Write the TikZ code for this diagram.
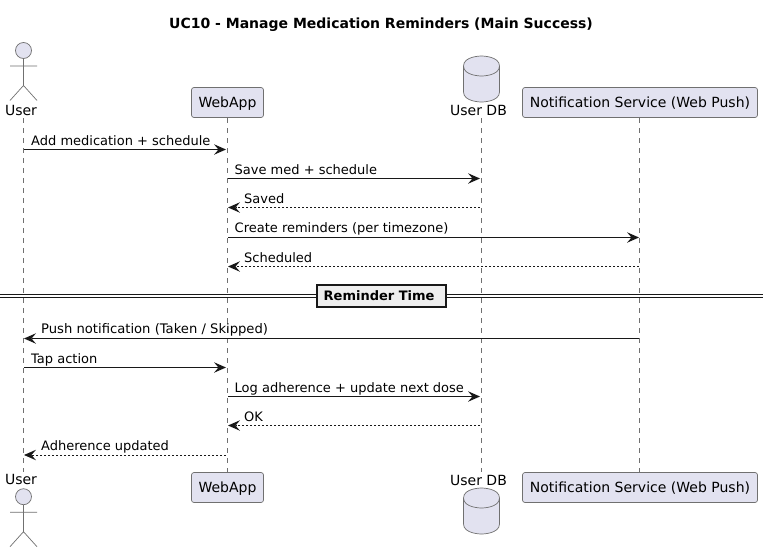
\documentclass[tikz,border=0pt]{standalone}
\usepackage{fontspec}
\setmainfont{DejaVu Sans}
\usetikzlibrary{arrows.meta}
\definecolor{partfill}{HTML}{E2E2F0}
\definecolor{ink}{HTML}{181818}
\definecolor{thinink}{HTML}{707070}
\definecolor{divfill}{HTML}{EEEEEE}
\tikzset{
  partbox/.style={draw=thinink,line width=0.7pt,fill=partfill,rounded corners=2.5pt,inner sep=0pt,minimum height=30pt,text height=13pt,text depth=3.4pt,font=\fontsize{14}{16}\selectfont,text=black,anchor=center},
  partlabel/.style={inner sep=0pt,anchor=base,font=\fontsize{14}{16}\selectfont,text=black},
  lifeline/.style={draw=thinink,line width=0.7pt,dash pattern=on 5pt off 5pt},
  msg/.style={draw=ink,line width=1pt,-{Stealth[length=12pt,width=10.5pt,inset=4.5pt,line width=0pt,fill=ink]}},
  retmsg/.style={msg,dash pattern=on 2pt off 2pt},
  msglabel/.style={inner sep=0pt,anchor=base west,font=\fontsize{13}{15}\selectfont,text=black},
  actorshape/.style={draw=thinink,line width=0.7pt,fill=partfill},
  actorlimb/.style={draw=thinink,line width=0.7pt},
  dbshape/.style={draw=thinink,line width=0.7pt,fill=partfill},
  pics/actor/.style={code={
    \draw[actorshape] (0,0) circle (8pt);
    \draw[actorlimb] (0,8)--(0,35) (-13.5,15.5)--(13.5,15.5) (-13.5,50)--(0,35)--(13.5,50);
  }},
  pics/database/.style={code={
    \draw[dbshape] (-18,10) .. controls (-18,0) and (0,0) .. (0,0) .. controls (0,0) and (18,0) .. (18,10) -- (18,36) .. controls (18,46) and (0,46) .. (0,46) .. controls (0,46) and (-18,46) .. (-18,36) -- cycle;
    \draw[dbshape,fill=none] (-18,10) .. controls (-18,20) and (0,20) .. (0,20) .. controls (0,20) and (18,20) .. (18,10);
  }}
}
\begin{document}
\begin{tikzpicture}[x=1pt,y=-1pt]
\useasboundingbox (0,0) rectangle (768,552);
\fill[white] (0,0) rectangle (768,552);
% title
\node[inner sep=0pt,anchor=base,font=\fontsize{14}{16}\selectfont\bfseries] (title) at (381,28.3) {UC10 - Manage Medication Reminders (Main Success)};
% lifeline end points
\coordinate (utop) at (23.5,118);
\coordinate (ubot) at (23.5,472);
\coordinate (dtop) at (481.5,118);
\coordinate (dbot) at (481.5,472);
\coordinate (wtop) at (227.5,118);
\coordinate (wbot) at (227.5,472);
\coordinate (ntop) at (639.5,118);
\coordinate (nbot) at (639.5,472);
\draw[lifeline] (utop) -- (ubot);
\draw[lifeline] (wtop) -- (wbot);
\draw[lifeline] (dtop) -- (dbot);
\draw[lifeline] (ntop) -- (nbot);
% participants
\pic at (23.5,50.5) {actor};
\node[partlabel] (userT) at (21,115) {User};
\node[partlabel] (userB) at (21,484.5) {User};
\pic at (23.5,496.7) {actor};
\node[partbox,minimum width=72pt] (webT) at (227.5,102.5) {WebApp};
\node[partbox,minimum width=72pt] (webB) at (227.5,487.5) {WebApp};
\pic at (481.5,56) {database};
\node[partlabel] (dbT) at (478.5,115.3) {User DB};
\node[partlabel] (dbB) at (478.5,485) {User DB};
\pic at (481.5,488) {database};
\node[partbox,minimum width=235pt] (notT) at (640,102.5) {Notification Service (Web Push)};
\node[partbox,minimum width=235pt] (notB) at (640,487.5) {Notification Service (Web Push)};
% messages
\foreach \n/\y in {1/149.5,2/178.5,3/207.5,4/237.5,5/266.5,6/338.5,7/367.5,8/396.5,9/425.5,10/455}{
  \coordinate (u\n) at (24,\y);
  \coordinate (w\n) at (226,\y);
  \coordinate (wr\n) at (228,\y);
  \coordinate (d\n) at (480,\y);
  \coordinate (n\n) at (639,\y);
}
\draw[msg] (u1) -- (w1);
\node[msglabel] (m1) at (31,145) {Add medication + schedule};
\draw[msg] (wr2) -- (d2);
\node[msglabel] (m2) at (234.5,174) {Save med + schedule};
\draw[retmsg] (d3) -- (wr3);
\node[msglabel] (m3) at (244,203.5) {Saved};
\draw[msg] (wr4) -- (n4);
\node[msglabel] (m4) at (234.5,232.5) {Create reminders (per timezone)};
\draw[retmsg] (n5) -- (wr5);
\node[msglabel] (m5) at (244,262) {Scheduled};
\draw[msg] (n6) -- (u6);
\node[msglabel,font=\fontsize{13.15}{15}\selectfont] (m6) at (41,333.5) {Push notification (Taken / Skipped)};
\draw[msg] (u7) -- (w7);
\node[msglabel] (m7) at (31,363) {Tap action};
\draw[msg] (wr8) -- (d8);
\node[msglabel] (m8) at (234.5,392) {Log adherence + update next dose};
\draw[retmsg] (d9) -- (wr9);
\node[msglabel] (m9) at (244,421) {OK};
\draw[retmsg] (w10) -- (u10);
\node[msglabel] (m10) at (41,450.5) {Adherence updated};
% divider
\coordinate (divL) at (0,294.5);
\coordinate (divR) at (763,294.5);
\coordinate (divL2) at (0,297.5);
\coordinate (divR2) at (763,297.5);
\draw[draw=ink,line width=1pt] (divL) -- (divR) (divL2) -- (divR2);
\node[draw=ink,line width=2pt,fill=divfill,inner sep=0pt,minimum width=129.5pt,minimum height=22.5pt] (divbox) at (381.3,296) {};
\node[inner sep=0pt,anchor=base west,font=\fontsize{13}{15}\selectfont\bfseries] (divtext) at (323.5,300) {Reminder Time};
\end{tikzpicture}
\end{document}
